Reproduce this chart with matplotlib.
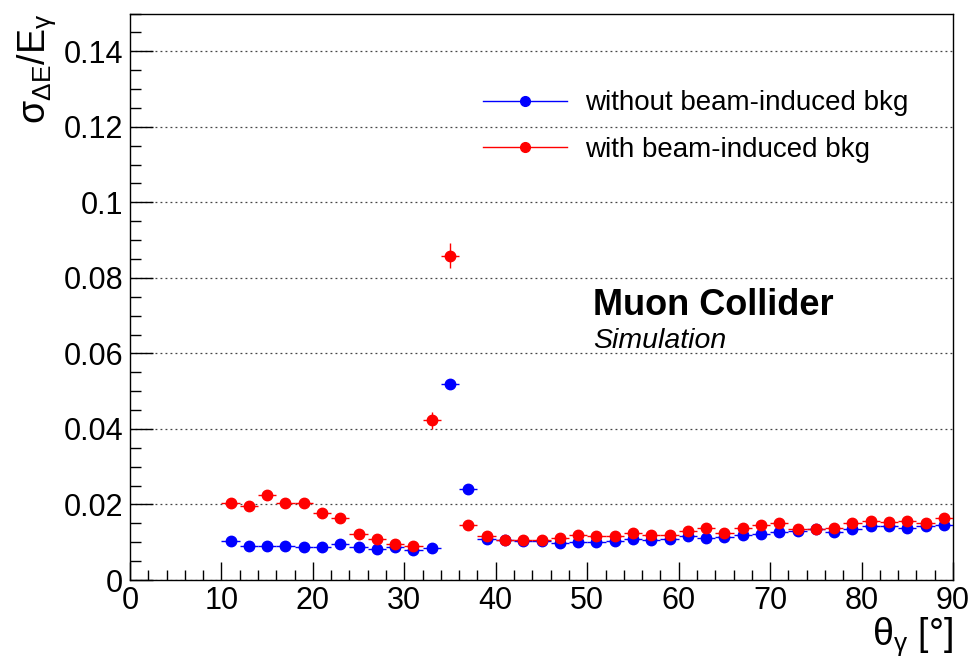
import matplotlib
matplotlib.use("Agg")
import matplotlib.pyplot as plt
from matplotlib.lines import Line2D
from matplotlib.ticker import MultipleLocator, FixedLocator

plt.rcParams['font.family'] = ['Liberation Sans', 'DejaVu Sans']
plt.rcParams['mathtext.fontset'] = 'custom'
plt.rcParams['mathtext.rm'] = 'Liberation Sans'
plt.rcParams['mathtext.it'] = 'Liberation Sans:italic'

# polar-angle bin centres (2 degree bins)
theta_no_bib = [11, 13, 15, 17, 19, 21, 23, 25, 27, 29, 31, 33, 35, 37, 39, 41, 43, 45,
                47, 49, 51, 53, 55, 57, 59, 61, 63, 65, 67, 69, 71, 73, 75, 77, 79, 81,
                83, 85, 87, 89]
res_no_bib = [0.0102, 0.0091, 0.0091, 0.0090, 0.0088, 0.0088, 0.0094, 0.0087, 0.0083,
              0.0087, 0.0080, 0.0086, 0.0520, 0.0240, 0.0109, 0.0105, 0.0104, 0.0103,
              0.0098, 0.0100, 0.0100, 0.0103, 0.0109, 0.0105, 0.0109, 0.0116, 0.0112,
              0.0115, 0.0120, 0.0122, 0.0127, 0.0131, 0.0134, 0.0127, 0.0136, 0.0142,
              0.0143, 0.0138, 0.0143, 0.0146]
err_no_bib = [0.0004, 0.0003, 0.0003, 0.0003, 0.0003, 0.0003, 0.0003, 0.0003, 0.0003,
              0.0003, 0.0003, 0.0003, 0.0008, 0.0006, 0.0003, 0.0003, 0.0003, 0.0003,
              0.0003, 0.0003, 0.0003, 0.0003, 0.0003, 0.0003, 0.0003, 0.0003, 0.0003,
              0.0003, 0.0003, 0.0003, 0.0003, 0.0003, 0.0003, 0.0003, 0.0003, 0.0003,
              0.0003, 0.0003, 0.0003, 0.0003]

theta_bib = theta_no_bib
res_bib = [0.0203, 0.0197, 0.0225, 0.0204, 0.0205, 0.0177, 0.0165, 0.0122, 0.0109,
           0.0096, 0.0089, 0.0423, 0.0858, 0.0146, 0.0116, 0.0107, 0.0105, 0.0107,
           0.0112, 0.0120, 0.0116, 0.0116, 0.0125, 0.0120, 0.0120, 0.0129, 0.0137,
           0.0124, 0.0137, 0.0146, 0.0150, 0.0136, 0.0134, 0.0138, 0.0152, 0.0156,
           0.0153, 0.0156, 0.0152, 0.0165]
err_bib = [0.0005, 0.0005, 0.0005, 0.0005, 0.0005, 0.0005, 0.0005, 0.0004, 0.0004,
           0.0004, 0.0004, 0.0023, 0.0033, 0.0006, 0.0004, 0.0003, 0.0003, 0.0003,
           0.0003, 0.0003, 0.0003, 0.0003, 0.0003, 0.0003, 0.0003, 0.0003, 0.0003,
           0.0003, 0.0003, 0.0003, 0.0003, 0.0003, 0.0003, 0.0003, 0.0003, 0.0003,
           0.0003, 0.0003, 0.0003, 0.0003]

bin_half_width = 1.0
labels = ["without beam-induced bkg", "with beam-induced bkg"]
colors = ["#0000ff", "#ff0000"]

W, H = 975, 661
fig = plt.figure(figsize=(W / 100, H / 100), dpi=100)
ax = fig.add_axes([130 / W, 1 - 580 / H, (953 - 130) / W, (580 - 13.5) / H])

for th, res, err, col in [(theta_no_bib, res_no_bib, err_no_bib, colors[0]),
                          (theta_bib, res_bib, err_bib, colors[1])]:
    ax.errorbar(th, res, xerr=bin_half_width, yerr=err, fmt='o', color=col,
                ms=7.5, elinewidth=1.0, capsize=0, zorder=3)

ax.set_xlim(0, 90)
ax.set_ylim(0, 0.15)

ax.xaxis.set_major_locator(MultipleLocator(10))
ax.xaxis.set_minor_locator(MultipleLocator(2))
ax.yaxis.set_major_locator(FixedLocator([0, 0.02, 0.04, 0.06, 0.08, 0.1, 0.12, 0.14]))
ax.yaxis.set_minor_locator(MultipleLocator(0.005))
ax.set_yticklabels(["0", "0.02", "0.04", "0.06", "0.08", "0.1", "0.12", "0.14"])

ax.tick_params(axis='x', which='major', direction='in', length=13, width=1, labelsize=22, pad=4)
ax.tick_params(axis='x', which='minor', direction='in', length=7, width=1)
ax.tick_params(axis='y', which='major', direction='in', length=16.5, width=1, labelsize=22, pad=5)
ax.tick_params(axis='y', which='minor', direction='in', length=8, width=1)
for sp in ax.spines.values():
    sp.set_linewidth(1.0)

ax.yaxis.grid(True, which='major', linestyle=(0, (1.5, 2.5)), color='#444444', linewidth=0.9)
ax.set_axisbelow(True)

ax.set_xlabel(r'$\mathrm{\theta}_{\mathrm{\gamma}}$ [°]', fontsize=27, ha='right', x=1.0, labelpad=0)
ax.set_ylabel(r'$\mathrm{σ}_{\mathrm{ΔE}}/\mathrm{E}_{\mathrm{γ}}$', fontsize=27, ha='right', y=1.0)
ax.yaxis.set_label_coords(-0.088, 1.0)

handles = [Line2D([], [], color=c, marker='o', lw=1.0, ms=7) for c in colors]
ax.legend(handles, labels, loc='upper left', bbox_to_anchor=(483 / W, 1 - 90.5 / H),
          bbox_transform=fig.transFigure, frameon=False, fontsize=20,
          handlelength=3.02, handletextpad=0.65, labelspacing=0.73, borderaxespad=0,
          borderpad=0)

fig.text(593 / W, 1 - 315 / H, "Muon Collider", fontsize=26, fontweight='bold', va='baseline')
fig.text(593 / W, 1 - 347.5 / H, "Simulation", fontsize=20.5, style='italic', va='baseline')

fig.savefig("out.png", dpi=100)
